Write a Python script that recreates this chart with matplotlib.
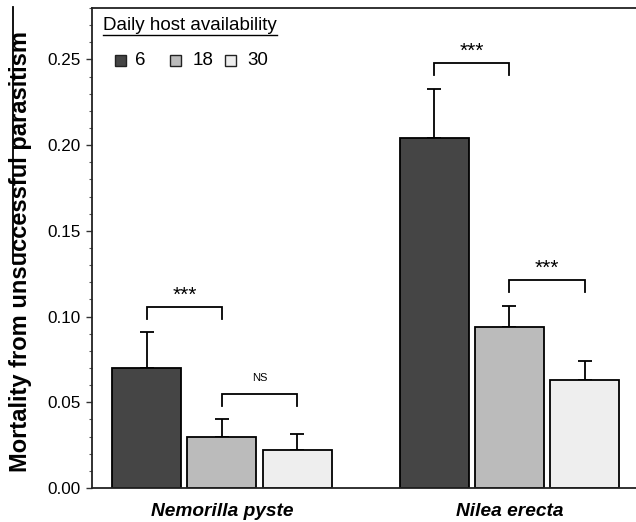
import matplotlib
matplotlib.use("Agg")
import matplotlib.pyplot as plt
from matplotlib.lines import Line2D
from matplotlib.patches import Rectangle
import numpy as np

plt.rcParams['font.family'] = ['Liberation Sans', 'DejaVu Sans']

species = ["Nemorilla pyste", "Nilea erecta"]
availability = ["6", "18", "30"]
means = {
    "6":  [0.070, 0.204],
    "18": [0.030, 0.094],
    "30": [0.0223, 0.063],
}
errs = {
    "6":  [0.021, 0.029],
    "18": [0.0105, 0.012],
    "30": [0.009, 0.011],
}
colors = ["#454545", "#bbbbbb", "#eeeeee"]

# significance brackets: (species index, bar i, bar j, bracket y, label)
brackets = [
    (0, 0, 1, 0.1054, "***"),
    (0, 1, 2, 0.0550, "NS"),
    (1, 0, 1, 0.2480, "***"),
    (1, 1, 2, 0.1216, "***"),
]

W, H = 636, 522
fig = plt.figure(figsize=(W / 100, H / 100), dpi=100)
left, right, top, bottom = 92, 644, 8, 488
ax = fig.add_axes([left / W, 1 - bottom / H, (right - left) / W, (bottom - top) / H])
ypx = 0.28 / (bottom - top)  # data units per pixel

x = np.arange(len(species))
step = 0.2609
width = 0.24
for i, a in enumerate(availability):
    pos = x + (i - 1) * step
    ax.bar(pos, means[a], width=width, color=colors[i], edgecolor="black",
           linewidth=1.3, zorder=2)
    ax.errorbar(pos, means[a], yerr=[np.zeros(len(species)), errs[a]], fmt="none",
                ecolor="black", elinewidth=1.3, capsize=5, capthick=1.3, zorder=1)

leg_drop = 12 * ypx
for s, i, j, yb, lab in brackets:
    xi = x[s] + (i - 1) * step
    xj = x[s] + (j - 1) * step
    ax.plot([xi, xi, xj, xj], [yb - leg_drop, yb, yb, yb - leg_drop], color="black",
            linewidth=1.3, solid_joinstyle="miter", zorder=3)
    if lab == "NS":
        ax.text((xi + xj) / 2, yb + 13 * ypx, lab, ha="center", va="baseline", fontsize=8)
    else:
        ax.text((xi + xj) / 2, yb + 6 * ypx, lab, ha="center", va="baseline", fontsize=15)

ax.set_xlim((left - 222) / 287.5, (right - 222) / 287.5)
ax.set_ylim(0, 0.28)
ax.set_yticks(np.arange(0, 0.26, 0.05))
ax.set_yticks(np.arange(0, 0.28, 0.01), minor=True)
ax.set_yticklabels([f"{v:.2f}" for v in np.arange(0, 0.26, 0.05)])
ax.set_xticks(x)
ax.set_xticklabels(species, fontweight="bold", fontstyle="italic", fontsize=13.8)
ax.tick_params(axis="x", length=0, pad=10.8)
ax.tick_params(axis="y", which="major", length=4.3, width=1, labelsize=12.3, pad=3.6, color="#333333")
ax.tick_params(axis="y", which="minor", length=2.2, width=0.8, color="#555555")
ax.spines["right"].set_visible(False)
for sp in ["left", "top", "bottom"]:
    ax.spines[sp].set_linewidth(1.3)
    ax.spines[sp].set_color("#222222")

ax.set_ylabel("Mortality from unsuccessful parasitism", fontsize=17, fontweight="bold")
ax.yaxis.set_label_coords((32 - left) / (right - left), (bottom - 251) / (bottom - top))

# legend title with underline
fig.text(103 / W, 1 - 30 / H, "Daily host availability", fontsize=13.5, ha="left", va="baseline")
fig.add_artist(Line2D([103 / W, 277 / W], [1 - 35 / H, 1 - 35 / H], color="black", linewidth=1))
sq_x = [115, 170, 225]
txt_x = [135, 193, 247]
for c, lab, sx, tx in zip(colors, availability, sq_x, txt_x):
    fig.add_artist(Rectangle((sx / W, 1 - 66 / H), 11 / W, 11 / H, facecolor=c,
                             edgecolor="#222222", linewidth=1, transform=fig.transFigure))
    fig.text(tx / W, 1 - 60.5 / H, lab, fontsize=13.5, ha="left", va="center")

# vertical rule at the left edge of the figure
fig.add_artist(Line2D([12.5 / W, 12.5 / W], [1 - 7 / H, 1 - 263 / H], color="black", linewidth=1.3))

fig.savefig("out.png", dpi=100)
